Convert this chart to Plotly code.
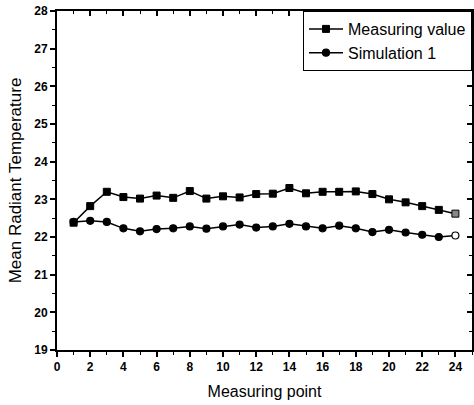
import plotly.graph_objects as go

points = list(range(1, 25))
measuring_value = [22.38, 22.82, 23.2, 23.06, 23.02, 23.1, 23.04, 23.22, 23.02, 23.08, 23.05, 23.14,
                   23.15, 23.3, 23.16, 23.2, 23.2, 23.21, 23.14, 23.0, 22.92, 22.82, 22.72, 22.62]
simulation_1 = [22.4, 22.43, 22.4, 22.23, 22.15, 22.21, 22.23, 22.28, 22.22, 22.28, 22.33, 22.25,
                22.28, 22.35, 22.28, 22.23, 22.3, 22.23, 22.13, 22.19, 22.12, 22.06, 22.0, 22.04]
legend_names = ["Measuring value", "Simulation 1"]

fig = go.Figure()
n = len(points)
fig.add_trace(go.Scatter(
    x=points, y=measuring_value, name=legend_names[0], mode="lines+markers",
    line=dict(color="black", width=1.5),
    marker=dict(symbol="square", size=7,
                color=["black"] * (n - 1) + ["#888888"],
                line=dict(color="black", width=1)),
))
fig.add_trace(go.Scatter(
    x=points, y=simulation_1, name=legend_names[1], mode="lines+markers",
    line=dict(color="black", width=1.5),
    marker=dict(symbol="circle", size=7,
                color=["black"] * (n - 1) + ["white"],
                line=dict(color="black", width=1.2)),
))
# invisible trace for top/right inward ticks
fig.add_trace(go.Scatter(x=[0], y=[19], xaxis="x2", yaxis="y2", showlegend=False,
                         mode="markers", marker=dict(opacity=0), hoverinfo="skip"))

tickfont = dict(family="Liberation Sans", size=12, color="black", weight="bold")
fig.update_layout(
    width=474, height=405,
    margin=dict(l=57, r=2, t=11, b=55),
    paper_bgcolor="white", plot_bgcolor="white",
    font=dict(family="Liberation Sans", color="black"),
    showlegend=True,
    legend=dict(x=1, y=1, xanchor="right", yanchor="top",
                bordercolor="black", borderwidth=1, bgcolor="white",
                font=dict(size=16, family="Liberation Sans"),
                tracegroupgap=0, itemwidth=34),
    xaxis=dict(range=[0, 25], tickmode="linear", tick0=0, dtick=2, automargin=False,
               showgrid=False, zeroline=False, showline=True, linecolor="black", linewidth=2,
               ticks="outside", ticklen=5, tickwidth=1.5, tickcolor="black",
               minor=dict(dtick=1, ticks="outside", ticklen=3, tickcolor="black", tickwidth=1),
               tickfont=tickfont,
               title=dict(text="Measuring point", font=dict(size=16, family="Liberation Sans"), standoff=12)),
    yaxis=dict(range=[19, 28], tickmode="linear", tick0=19, dtick=1, automargin=False,
               showgrid=False, zeroline=False, showline=True, linecolor="black", linewidth=2,
               ticks="outside", ticklen=5, tickwidth=1.5, tickcolor="black",
               minor=dict(dtick=0.5, ticks="outside", ticklen=3, tickcolor="black", tickwidth=1),
               tickfont=tickfont,
               title=dict(text="Mean Radiant Temperature", font=dict(size=17, family="Liberation Sans"), standoff=8)),
    xaxis2=dict(range=[0, 25], overlaying="x", side="top", tickmode="linear", tick0=0, dtick=2,
                automargin=False,
                showgrid=False, zeroline=False, showline=True, linecolor="black", linewidth=1.5,
                ticks="inside", ticklen=5, tickwidth=1.5, tickcolor="black", showticklabels=False,
                minor=dict(dtick=1, ticks="inside", ticklen=3, tickcolor="black", tickwidth=1)),
    yaxis2=dict(range=[19, 28], overlaying="y", side="right", tickmode="linear", tick0=19, dtick=1,
                automargin=False,
                showgrid=False, zeroline=False, showline=True, linecolor="black", linewidth=1.5,
                ticks="inside", ticklen=5, tickwidth=1.5, tickcolor="black", showticklabels=False,
                minor=dict(dtick=0.5, ticks="inside", ticklen=3, tickcolor="black", tickwidth=1)),
)

fig.write_html("out.html", config={"displayModeBar": False},
               post_script="document.body.style.margin='0';document.body.style.padding='0';")
